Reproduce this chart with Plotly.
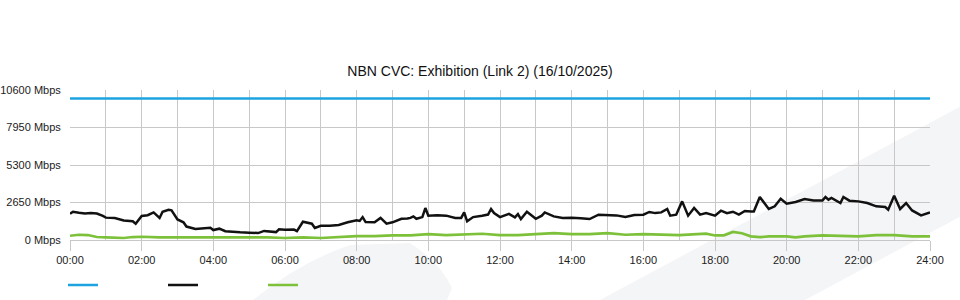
import plotly.graph_objects as go

# ---- data ----
capacity_times = ["00:00", "24:00"]
capacity_mbps = [10000, 10000]

traffic_times = ["00:00","00:05","00:15","00:25","00:35","00:45","00:55","01:00","01:15","01:30","01:45","01:50",
                 "02:00","02:10","02:20","02:30","02:35","02:45","02:50","03:00","03:10","03:15","03:30","03:45",
                 "03:55","04:00","04:10","04:20","04:30","04:45","05:00","05:15","05:25","05:30","05:45","05:50",
                 "06:00","06:15","06:20","06:30","06:45","06:50","07:00","07:15","07:30","07:45","08:00","08:05",
                 "08:10","08:15","08:30","08:40","08:50","09:00","09:15","09:25","09:30","09:35","09:40","09:50",
                 "09:55","10:00","10:15","10:30","10:45","10:55","11:00","11:05","11:15","11:30","11:40","11:45",
                 "11:50","12:00","12:15","12:25","12:30","12:35","12:45","13:00","13:10","13:15","13:30","13:45",
                 "14:00","14:15","14:30","14:45","15:00","15:15","15:30","15:45","16:00","16:10","16:20","16:30",
                 "16:40","16:45","16:55","17:05","17:15","17:25","17:35","17:45","18:00","18:10","18:20","18:30",
                 "18:40","18:50","19:00","19:05","19:15","19:30","19:40","19:50","20:00","20:15","20:30","20:45",
                 "21:00","21:05","21:10","21:15","21:30","21:35","21:45","22:00","22:15","22:30","22:45","22:50",
                 "23:00","23:10","23:20","23:30","23:45","24:00"]
traffic_mbps = [1850,2000,1930,1880,1900,1870,1700,1580,1550,1380,1330,1150,
                1700,1750,1950,1560,2000,2140,2100,1450,1250,950,780,850,
                860,700,800,620,580,540,520,490,640,620,560,760,
                730,740,630,1290,1150,850,1010,1010,1060,1250,1390,1350,
                1620,1270,1250,1560,1150,1250,1500,1520,1560,1670,1500,1620,
                2260,1720,1750,1720,1560,1560,1950,1320,1620,1720,1800,2190,
                1900,1620,1850,1600,1830,1480,2000,1500,1720,1950,1670,1560,
                1580,1530,1480,1790,1740,1740,1620,1760,1790,1980,1900,1950,
                2190,1720,1790,2730,1720,2260,1790,1900,1720,2070,1900,2000,
                1790,2050,2020,2020,3040,2190,2380,2920,2570,2690,2900,2800,
                2800,3040,2850,2970,2610,3040,2780,2730,2610,2380,2330,2140,
                3130,2190,2610,2090,1740,1950]

upload_times = ["00:00","00:15","00:30","00:45","01:00","01:30","01:45","02:00","02:30","03:00","03:30","04:00",
                "04:30","05:00","05:30","06:00","06:30","07:00","07:30","08:00","08:30","09:00","09:30","10:00",
                "10:30","11:00","11:30","12:00","12:30","13:00","13:30","14:00","14:30","15:00","15:30","16:00",
                "16:30","17:00","17:30","17:45","18:00","18:15","18:30","18:45","19:00","19:15","19:30","20:00",
                "20:15","20:30","21:00","21:30","22:00","22:30","23:00","23:30","24:00"]
upload_mbps = [300,370,350,210,185,140,210,230,185,185,210,210,
               185,210,185,140,185,140,210,280,280,330,320,420,
               350,420,440,350,350,420,490,420,420,490,370,420,
               370,350,420,445,320,330,565,480,255,200,250,255,
               190,255,330,300,255,350,350,255,255]

x_ticks = ["00:00","02:00","04:00","06:00","08:00","10:00","12:00","14:00","16:00","18:00","20:00","22:00","24:00"]
y_ticks = [0, 2650, 5300, 7950, 10600]
y_tick_labels = [f"{v} Mbps" for v in y_ticks]


def to_hours(t):
    h, m = t.split(":")
    return int(h) + int(m) / 60.0


fig = go.Figure()
fig.add_trace(go.Scatter(x=[to_hours(t) for t in capacity_times], y=capacity_mbps, mode="lines",
                         name="", line=dict(color="#1ca3e0", width=2.5)))
fig.add_trace(go.Scatter(x=[to_hours(t) for t in traffic_times], y=traffic_mbps, mode="lines",
                         name="", line=dict(color="#111111", width=2.5)))
fig.add_trace(go.Scatter(x=[to_hours(t) for t in upload_times], y=upload_mbps, mode="lines",
                         name="", line=dict(color="#7dc13a", width=2.7)))

# plot area: x 70..930 px, y 90..240 px
L, R, T, B = 70, 30, 90, 60
W, H = 960, 300
pw, ph = W - L - R, H - T - B


def px(xp):
    return (xp - L) / pw


def py(yp):
    return (H - B - yp) / ph


band = f"M{px(600)},{py(300)} L{px(960)},{py(106.7)} L{px(975)},{py(99)} L{px(975)},{py(209)} L{px(960)},{py(216.7)} L{px(805)},{py(300)} Z"
blob = (f"M{px(253)},{py(300)} Q{px(300)},{py(262)} {px(350)},{py(245)} "
        f"L{px(410)},{py(243)} Q{px(440)},{py(262)} {px(452)},{py(288)} L{px(447)},{py(300)} Z")

fig.update_layout(
    width=W, height=H,
    margin=dict(l=L, r=R, t=T, b=B, autoexpand=False),
    paper_bgcolor="white",
    plot_bgcolor="rgba(0,0,0,0)",
    font=dict(family="Liberation Sans, Arial, sans-serif", size=11, color="#222"),
    title=dict(text="NBN CVC: Exhibition (Link 2) (16/10/2025)", x=0.5, xanchor="center",
               y=(H - 71) / H, yanchor="middle", font=dict(size=14, color="#111")),
    showlegend=True,
    legend=dict(orientation="h", x=px(63), xanchor="left", y=py(285), yanchor="middle",
                entrywidth=55, entrywidthmode="pixels", font=dict(size=11), bgcolor="rgba(0,0,0,0)"),
    shapes=[
        dict(type="path", path=band, xref="paper", yref="paper", fillcolor="#f4f5f7",
             line=dict(width=0), layer="below"),
        dict(type="path", path=blob, xref="paper", yref="paper", fillcolor="#f4f5f7",
             line=dict(width=0), layer="below"),
    ],
)

fig.update_xaxes(range=[0, 24], tickvals=[to_hours(t) for t in x_ticks], ticktext=x_ticks,
                 showgrid=True, gridcolor="#c8c8c8", gridwidth=1,
                 minor=dict(dtick=1, tick0=0, showgrid=True, gridcolor="#c8c8c8", gridwidth=1),
                 ticks="outside", ticklen=10, tickcolor="#c8c8c8", tickwidth=1,
                 showline=True, linecolor="#c8c8c8", mirror=False, zeroline=False, automargin=False,
                 tickfont=dict(size=11, color="#222"), fixedrange=True)
fig.update_yaxes(range=[0, 10600], tickvals=y_ticks, ticktext=y_tick_labels,
                 showgrid=True, gridcolor="#c8c8c8", gridwidth=1,
                 ticks="outside", ticklen=6, tickcolor="rgba(0,0,0,0)",
                 showline=False, zeroline=False, automargin=False,
                 tickfont=dict(size=11, color="#222"), fixedrange=True)

fig.write_html("out.html")
